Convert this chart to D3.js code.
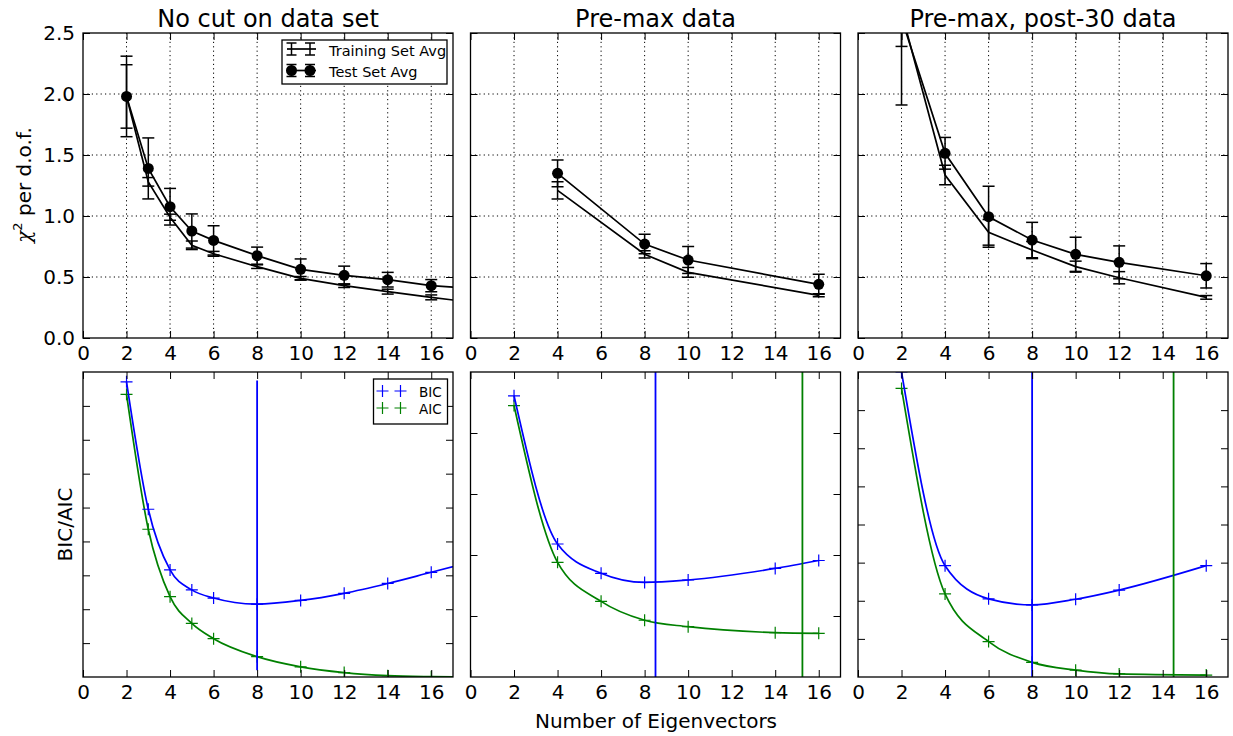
<!DOCTYPE html>
<html lang="en">
<head>
<meta charset="utf-8">
<title>Chi2 and BIC/AIC vs number of eigenvectors</title>
<script src="https://cdnjs.cloudflare.com/ajax/libs/d3/7.8.5/d3.min.js"></script>
<style>
  body { margin: 0; background: #fff; }
  text { font-family: "DejaVu Sans", sans-serif; fill: #000; }
</style>
</head>
<body>
<script>

// ---- data ----
var titles   = ["No cut on data set", "Pre-max data", "Pre-max, post-30 data"];
var xTicks   = [0, 2, 4, 6, 8, 10, 12, 14, 16];
var chiTicks = [0, 0.5, 1.0, 1.5, 2.0, 2.5];

// top row: chi^2 per d.o.f.
var eigTop1   = [2, 3, 4, 5, 6, 8, 10, 12, 14, 16, 18];
var train1    = [1.98, 1.28, 0.99, 0.76, 0.69, 0.585, 0.489, 0.429, 0.38, 0.333, 0.29];
var train1Err = [0.26, 0.035, 0.025, 0.035, 0.02, 0.015, 0.015, 0.015, 0.02, 0.02, 0.02];
var test1     = [1.98, 1.39, 1.076, 0.877, 0.80, 0.675, 0.563, 0.514, 0.478, 0.429, 0.405];
var test1Err  = [0.33, 0.25, 0.15, 0.14, 0.12, 0.07, 0.085, 0.075, 0.06, 0.05, 0.05];

var eigTop2   = [4, 8, 10, 16];
var train2    = [1.21, 0.686, 0.538, 0.35];
var train2Err = [0.07, 0.03, 0.04, 0.012];
var test2     = [1.35, 0.77, 0.639, 0.44];
var test2Err  = [0.11, 0.08, 0.11, 0.082];

var eigTop3   = [2, 4, 6, 8, 10, 12, 16];
var train3    = [2.67, 1.336, 0.866, 0.721, 0.585, 0.494, 0.333];
var train3Err = [0.28, 0.08, 0.105, 0.07, 0.045, 0.05, 0.015];
var test3     = [2.62, 1.514, 0.994, 0.803, 0.686, 0.62, 0.51];
var test3Err  = [0.71, 0.13, 0.25, 0.145, 0.14, 0.135, 0.1];

// bottom row: BIC / AIC (arbitrary units, one unit = one tick)
var eigBot1 = [2, 3, 4, 5, 6, 8, 10, 12, 14, 16, 18];
var bic1    = [8.71, 4.95, 3.16, 2.57, 2.33, 2.15, 2.26, 2.47, 2.76, 3.09, 3.42];
var aic1    = [8.34, 4.36, 2.37, 1.58, 1.13, 0.60, 0.30, 0.13, 0.04, 0.01, 0.0];

var eigBot2 = [2, 4, 6, 8, 10, 14, 16];
var bic2    = [4.61, 2.18, 1.70, 1.55, 1.59, 1.78, 1.91];
var aic2    = [4.45, 1.88, 1.24, 0.93, 0.825, 0.727, 0.716];

var eigBot3 = [2, 4, 6, 8, 10, 12, 16];
var bic3    = [8.0, 2.92, 2.05, 1.89, 2.04, 2.28, 2.92];
var aic3    = [7.57, 2.18, 0.93, 0.385, 0.18, 0.08, 0.05];

var botTop  = [9, 5, 8];            // y extent of each BIC/AIC panel
var bicMinX = [8, 8.5, 8];
var aicMinX = [18, 15.25, 14.5];
var vSpan   = [[0.2, 8.75], [0, 5], [0, 8]];

var topSets = [
  {x: eigTop1, tr: train1, trE: train1Err, te: test1, teE: test1Err},
  {x: eigTop2, tr: train2, trE: train2Err, te: test2, teE: test2Err},
  {x: eigTop3, tr: train3, trE: train3Err, te: test3, teE: test3Err}
];
var botSets = [
  {x: eigBot1, bic: bic1, aic: aic1},
  {x: eigBot2, bic: bic2, aic: aic2},
  {x: eigBot3, bic: bic3, aic: aic3}
];

// ---- layout ----
var W = 1233, H = 736;
var lefts = [83, 470.5, 858], pw = 370;
var topY0 = 33, topY1 = 338, botY0 = 372, botY1 = 677;
var BLUE = "#0000ff", GREEN = "#008000";

var svg = d3.select("body").append("svg").attr("width", W).attr("height", H);

function clip(id, x0, y0, w, h) {
  svg.append("clipPath").attr("id", id).append("rect")
    .attr("x", x0).attr("y", y0).attr("width", w).attr("height", h);
}

function inwardAxes(g, x, y, yTicks, showX, showY) {
  var ax = [
    {a: d3.axisBottom(x).tickValues(xTicks), t: "translate(0," + y.range()[0] + ")", lab: showX},
    {a: d3.axisTop(x).tickValues(xTicks), t: "translate(0," + y.range()[1] + ")", lab: false},
    {a: d3.axisLeft(y).tickValues(yTicks), t: "translate(" + x.range()[0] + ",0)", lab: showY},
    {a: d3.axisRight(y).tickValues(yTicks), t: "translate(" + x.range()[1] + ",0)", lab: false}
  ];
  ax.forEach(function(d) {
    d.a.tickSizeInner(-7).tickSizeOuter(0).tickPadding(8);
    if (!d.lab) d.a.tickFormat("");
    var s = g.append("g").attr("transform", d.t).call(d.a);
    s.select(".domain").remove();
    s.selectAll(".tick line").attr("stroke", "#000").attr("stroke-width", 1);
    s.selectAll(".tick text").attr("font-size", 20).attr("font-family", "DejaVu Sans");
  });
  g.append("rect")
    .attr("x", x.range()[0]).attr("y", y.range()[1])
    .attr("width", x.range()[1] - x.range()[0]).attr("height", y.range()[0] - y.range()[1])
    .attr("fill", "none").attr("stroke", "#000").attr("stroke-width", 1.3);
}

function errorSeries(g, x, y, xs, vs, es, dots) {
  var pts = xs.map(function(d, i) { return {x: d, v: vs[i], e: es[i]}; });
  g.append("path").datum(pts)
    .attr("d", d3.line().x(function(d) { return x(d.x); }).y(function(d) { return y(d.v); }))
    .attr("fill", "none").attr("stroke", "#000").attr("stroke-width", 1.7);
  var eb = g.selectAll(null).data(pts).enter().append("g");
  eb.append("line")
    .attr("x1", function(d) { return x(d.x); }).attr("x2", function(d) { return x(d.x); })
    .attr("y1", function(d) { return y(d.v - d.e); }).attr("y2", function(d) { return y(d.v + d.e); })
    .attr("stroke", "#000").attr("stroke-width", 1.5);
  [-1, 1].forEach(function(s) {
    eb.append("line")
      .attr("x1", function(d) { return x(d.x) - 6; }).attr("x2", function(d) { return x(d.x) + 6; })
      .attr("y1", function(d) { return y(d.v + s * d.e); }).attr("y2", function(d) { return y(d.v + s * d.e); })
      .attr("stroke", "#000").attr("stroke-width", 1.5);
  });
  if (dots) {
    g.selectAll(null).data(pts).enter().append("circle")
      .attr("cx", function(d) { return x(d.x); }).attr("cy", function(d) { return y(d.v); })
      .attr("r", 5.5).attr("fill", "#000");
  }
}

function plus(px, py, s) { return "M" + (px - s) + "," + py + "h" + (2 * s) + "M" + px + "," + (py - s) + "v" + (2 * s); }

function icSeries(g, x, y, xs, vs, color) {
  var pts = xs.map(function(d, i) { return [d, vs[i]]; });
  g.append("path").datum(pts)
    .attr("d", d3.line().x(function(d) { return x(d[0]); }).y(function(d) { return y(d[1]); }).curve(d3.curveMonotoneX))
    .attr("fill", "none").attr("stroke", color).attr("stroke-width", 1.7);
  g.selectAll(null).data(pts).enter().append("path")
    .attr("d", function(d) { return plus(x(d[0]), y(d[1]), 6); })
    .attr("stroke", color).attr("stroke-width", 1.2).attr("fill", "none");
}

for (var i = 0; i < 3; i++) {
  var x = d3.scaleLinear().domain([0, 17]).range([lefts[i], lefts[i] + pw]);

  // ---------- top row ----------
  var yT = d3.scaleLinear().domain([0, 2.5]).range([topY1, topY0]);
  var gT = svg.append("g");
  clip("ct" + i, lefts[i], topY0, pw, topY1 - topY0);

  var grid = gT.append("g").attr("stroke", "#000").attr("stroke-width", 1).attr("stroke-dasharray", "1.2,3.2");
  xTicks.slice(1).forEach(function(t) {
    grid.append("line").attr("x1", x(t)).attr("x2", x(t)).attr("y1", topY0).attr("y2", topY1);
  });
  chiTicks.slice(1, -1).forEach(function(t) {
    grid.append("line").attr("x1", lefts[i]).attr("x2", lefts[i] + pw).attr("y1", yT(t)).attr("y2", yT(t));
  });

  var dT = gT.append("g").attr("clip-path", "url(#ct" + i + ")");
  var s = topSets[i];
  errorSeries(dT, x, yT, s.x, s.tr, s.trE, false);
  errorSeries(dT, x, yT, s.x, s.te, s.teE, true);
  inwardAxes(gT, x, yT, chiTicks, true, i === 0);

  gT.append("text").attr("x", lefts[i] + pw / 2).attr("y", 27)
    .attr("text-anchor", "middle").attr("font-size", 24).text(titles[i]);

  // ---------- bottom row ----------
  var yB = d3.scaleLinear().domain([0, botTop[i]]).range([botY1, botY0]);
  var gB = svg.append("g");
  clip("cb" + i, lefts[i], botY0, pw, botY1 - botY0);
  var dB = gB.append("g").attr("clip-path", "url(#cb" + i + ")");
  var b = botSets[i];
  icSeries(dB, x, yB, b.x, b.aic, GREEN);
  icSeries(dB, x, yB, b.x, b.bic, BLUE);
  dB.append("line").attr("x1", x(bicMinX[i])).attr("x2", x(bicMinX[i]))
    .attr("y1", yB(vSpan[i][0])).attr("y2", yB(vSpan[i][1]))
    .attr("stroke", BLUE).attr("stroke-width", 1.8);
  dB.append("line").attr("x1", x(aicMinX[i])).attr("x2", x(aicMinX[i]))
    .attr("y1", yB(vSpan[i][0])).attr("y2", yB(vSpan[i][1]))
    .attr("stroke", GREEN).attr("stroke-width", 1.8);
  inwardAxes(gB, x, yB, d3.range(1, botTop[i]), true, false);
}

// ---- legends ----
var lg = svg.append("g");
lg.append("rect").attr("x", 282).attr("y", 40).attr("width", 165).attr("height", 44)
  .attr("fill", "#fff").attr("stroke", "#000").attr("stroke-width", 1.3);
[{y: 49, dot: false, label: "Training Set Avg", base: 56},
 {y: 70.5, dot: true, label: "Test Set Avg", base: 76.5}].forEach(function(r) {
  lg.append("line").attr("x1", 287).attr("x2", 316).attr("y1", r.y).attr("y2", r.y)
    .attr("stroke", "#000").attr("stroke-width", 1.7);
  [291.5, 310].forEach(function(px) {
    lg.append("line").attr("x1", px).attr("x2", px).attr("y1", r.y - 6).attr("y2", r.y + 6)
      .attr("stroke", "#000").attr("stroke-width", 1.5);
    [-6, 6].forEach(function(o) {
      lg.append("line").attr("x1", px - 5).attr("x2", px + 5).attr("y1", r.y + o).attr("y2", r.y + o)
        .attr("stroke", "#000").attr("stroke-width", 1.5);
    });
    if (r.dot) lg.append("circle").attr("cx", px).attr("cy", r.y).attr("r", 5.5).attr("fill", "#000");
  });
  lg.append("text").attr("x", 329).attr("y", r.base).attr("font-size", 14.5).text(r.label);
});

lg.append("rect").attr("x", 373.5).attr("y", 379).attr("width", 74).attr("height", 45)
  .attr("fill", "#fff").attr("stroke", "#000").attr("stroke-width", 1.3);
[{y: 391, c: BLUE, label: "BIC", base: 396.5},
 {y: 408, c: GREEN, label: "AIC", base: 414}].forEach(function(r) {
  [382.5, 400.5].forEach(function(px) {
    lg.append("path").attr("d", plus(px, r.y, 6)).attr("stroke", r.c).attr("stroke-width", 1.2);
  });
  lg.append("text").attr("x", 419).attr("y", r.base).attr("font-size", 13.5).text(r.label);
});

// ---- axis labels ----
var yl = svg.append("text").attr("transform", "translate(31,185) rotate(-90)")
  .attr("text-anchor", "middle").attr("font-size", 20);
yl.append("tspan").attr("font-family", "DejaVu Serif").attr("font-style", "italic").text("\u03c7");
yl.append("tspan").attr("font-size", 13).attr("dy", -9).text("2");
yl.append("tspan").attr("dy", 9).text(" per d.o.f.");

svg.append("text").attr("transform", "translate(72,524.5) rotate(-90)")
  .attr("text-anchor", "middle").attr("font-size", 20).text("BIC/AIC");

svg.append("text").attr("x", 656).attr("y", 728)
  .attr("text-anchor", "middle").attr("font-size", 20).text("Number of Eigenvectors");

</script>
</body>
</html>
